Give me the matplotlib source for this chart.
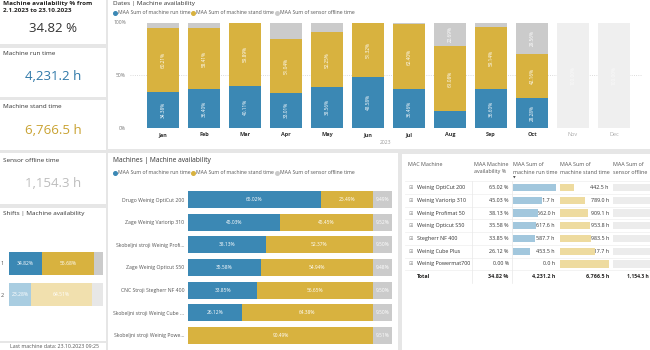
import numpy as np
import matplotlib
matplotlib.use("Agg")
import matplotlib.pyplot as plt
from matplotlib.patches import Rectangle

plt.rcParams['font.family'] = ['Open Sans', 'DejaVu Sans']

W, H = 650, 350

# colours
BLUE = '#3b88b4'
GOLD = '#d8b23f'
GREY = '#cbcbcb'
NODATA = '#efefef'

# ---- data -----------------------------------------------------------
months = ['Jan', 'Feb', 'Mar', 'Apr', 'May', 'Jun', 'Jul', 'Aug', 'Sep', 'Oct', 'Nov', 'Dec']
month_run = [34.38, 36.40, 40.11, 33.01, 38.56, 48.58, 36.46, 16.23, 36.60, 28.28, 0, 0]
month_stand = [60.21, 58.41, 59.89, 51.04, 52.25, 51.32, 62.40, 61.08, 59.14, 42.16, 0, 0]
month_offline = [5.41, 5.19, 0.00, 15.95, 9.19, 0.10, 1.14, 22.69, 4.26, 29.56, 0, 0]
month_nodata = [0, 0, 0, 0, 0, 0, 0, 0, 0, 0, 100, 100]

machine_names = ['Drugo Weinig OptiCut 200', 'Zage Weinig Variorip 310',
                 'Skobeljni stroji Weinig Profi...', 'Zage Weinig Opticut S50',
                 'CNC Stroji Stegherr NF 400', 'Skobeljni stroji Weinig Cube ...',
                 'Skobeljni stroji Weinig Powe...']
mach_run = [65.02, 45.03, 38.13, 35.58, 33.85, 26.12, 0.00]
mach_stand = [25.49, 45.45, 52.37, 54.94, 56.65, 64.38, 90.49]
mach_offline = [9.49, 9.52, 9.50, 9.48, 9.50, 9.50, 9.51]

shift_labels = ['1', '2']
shift_run = [34.82, 23.28]
shift_stand = [55.68, 64.51]
shift_offline = [9.50, 12.21]

table_machines = ['Weinig OptiCut 200', 'Weinig Variorip 310', 'Weinig Profimat 50',
                  'Weinig Opticut S50', 'Stegherr NF 400', 'Weinig Cube Plus',
                  'Weinig Powermat700']
table_avail = [65.02, 45.03, 38.13, 35.58, 33.85, 26.12, 0.00]
table_run_h = [1128.7, 781.7, 662.0, 617.6, 587.7, 453.5, 0.0]
table_stand_h = [442.5, 789.0, 909.1, 953.8, 983.5, 1117.7, 1570.9]
table_offline_h = [164.8, 165.3, 165.1, 164.5, 164.9, 165.1, 164.6]
total_avail, total_run, total_stand, total_offline = 34.82, 4231.2, 6766.5, 1154.3


def rect(x, y, w, h):
    return [x / W, 1 - (y + h) / H, w / W, h / H]


def clean(ax):
    for s in ax.spines.values():
        s.set_visible(False)
    ax.tick_params(length=0)


fig = plt.figure(figsize=(6.5, 3.5), dpi=100)
fig.patch.set_facecolor('#e6e6e6')

bg = fig.add_axes([0, 0, 1, 1])
bg.set_xlim(0, W)
bg.set_ylim(H, 0)
bg.axis('off')

# white panels
panels = [(0, -5, 106, 49), (0, 48, 106, 49), (0, 100, 106, 50), (0, 153, 106, 51),
          (0, 208, 106, 133), (0, 343, 106, 12),
          (108, -5, 542, 154), (108, 153, 290, 200), (402, 154, 250, 200)]
for x, y, w, h in panels:
    bg.add_patch(Rectangle((x, y), w, h, facecolor='white', edgecolor='none'))

# ---- KPI cards ------------------------------------------------------
bg.text(3, 3, 'Machine availability % from', fontsize=4.6, fontweight='bold', color='#252423', va='center')
bg.text(3, 10.5, '2.1.2023 to 23.10.2023', fontsize=4.6, fontweight='bold', color='#252423', va='center')
bg.text(53, 28, '34.82 %', fontsize=9.5, color='#333333', ha='center', va='center')
bg.text(3, 53.5, 'Machine run time', fontsize=4.6, color='#333333', va='center')
bg.text(53, 77, '4,231.2 h', fontsize=9.5, color='#2f78a8', ha='center', va='center')
bg.text(3, 107, 'Machine stand time', fontsize=4.6, color='#333333', va='center')
bg.text(53, 130, '6,766.5 h', fontsize=9.5, color='#c9a231', ha='center', va='center')
bg.text(3, 160.5, 'Sensor offline time', fontsize=4.6, color='#333333', va='center')
bg.text(53, 183.5, '1,154.3 h', fontsize=9.5, color='#bdbdbd', ha='center', va='center')
bg.text(3, 214, 'Shifts | Machine availability', fontsize=4.6, color='#333333', va='center')
bg.text(55, 346.5, 'Last machine data: 23.10.2023 09:25', fontsize=3.8, color='#555555',
        ha='center', va='center')

# ---- shifts chart ---------------------------------------------------
ax_s = fig.add_axes(rect(9, 247.6, 94, 62.8))
ax_s.set_facecolor('none')
ys = np.arange(len(shift_labels))
shift_cols = [(BLUE, GOLD, GREY), ('#a9cde1', '#f1e0ae', '#e7e7e7')]
for i in ys:
    c = shift_cols[i]
    ax_s.barh(i, shift_run[i], height=0.74, color=c[0])
    ax_s.barh(i, shift_stand[i], left=shift_run[i], height=0.74, color=c[1])
    ax_s.barh(i, shift_offline[i], left=shift_run[i] + shift_stand[i], height=0.74, color=c[2])
    ax_s.text(shift_run[i] / 2, i, f'{shift_run[i]:.2f}%', color='white', fontsize=3.6,
              ha='center', va='center')
    ax_s.text(shift_run[i] + shift_stand[i] / 2, i, f'{shift_stand[i]:.2f}%', color='white',
              fontsize=3.6, ha='center', va='center')
ax_s.set_xlim(0, 100)
ax_s.set_ylim(1.5, -0.5)
ax_s.set_xticks([])
ax_s.set_yticks(ys)
ax_s.set_yticklabels(shift_labels, fontsize=4, color='#555555')
ax_s.tick_params(axis='y', pad=4)
clean(ax_s)

# ---- legend helper --------------------------------------------------
legend_items = [('MAA Sum of machine run time', BLUE),
                ('MAA Sum of machine stand time', GOLD),
                ('MAA Sum of sensor offline time', GREY)]


def draw_legend(x0, y, xs):
    for (lab, col), dx in zip(legend_items, xs):
        bg.plot(x0 + dx, y, 'o', color=col, markersize=2.6)
        bg.text(x0 + dx + 3, y, lab, fontsize=3.7, color='#555555', va='center')


# ---- dates chart ----------------------------------------------------
bg.text(113, 3, 'Dates | Machine availability', fontsize=4.6, color='#333333', va='center')
draw_legend(115, 12.8, [0, 78, 162])

ax_d = fig.add_axes(rect(130, 22.5, 512, 105.2))
ax_d.set_facecolor('none')
x = np.arange(len(months))
run = np.array(month_run)
stand = np.array(month_stand)
off = np.array(month_offline)
bw = 0.78
ax_d.bar(x, run, width=bw, color=BLUE, zorder=2)
ax_d.bar(x, stand, bottom=run, width=bw, color=GOLD, zorder=2)
ax_d.bar(x, off, bottom=run + stand, width=bw, color=GREY, zorder=2)
ax_d.bar(x, month_nodata, width=bw, color=NODATA, zorder=2)
for i in x:
    for v, b in ((run[i], 0), (stand[i], run[i]), (off[i], run[i] + stand[i])):
        if v >= 20:
            ax_d.text(i, b + v / 2, f'{v:.2f}%', rotation=90, color='white', fontsize=3.4,
                      ha='center', va='center', zorder=3)
    if month_nodata[i] > 0:
        ax_d.text(i, month_nodata[i] / 2, f'{month_nodata[i]:.2f}%', rotation=90,
                  color='#fafafa', fontsize=3.4, ha='center', va='center', zorder=3)
for yv in (50, 100):
    ax_d.axhline(yv, color='#cfcfcf', lw=0.6, ls=':', zorder=1)
ax_d.set_xlim(-0.805, 11.683)
ax_d.set_ylim(0, 100)
ax_d.set_yticks([0, 50, 100])
ax_d.set_yticklabels(['0%', '50%', '100%'], fontsize=3.6, color='#777777')
ax_d.set_xticks(x)
ax_d.set_xticklabels(months, fontsize=4, fontweight='bold', color='#333333')
for lab in ax_d.get_xticklabels()[10:]:
    lab.set_color('#aaaaaa')
    lab.set_fontweight('normal')
ax_d.tick_params(axis='x', pad=3)
ax_d.tick_params(axis='y', pad=3)
ax_d.set_xlabel('2023', fontsize=3.6, color='#999999', labelpad=2)
clean(ax_d)

# ---- machines chart -------------------------------------------------
bg.text(113, 160.7, 'Machines | Machine availability', fontsize=4.8, color='#333333', va='center')
draw_legend(115, 172.7, [0, 78, 162])

ax_m = fig.add_axes(rect(188.3, 188.2, 203.7, 158.4))
ax_m.set_facecolor('none')
ym = np.arange(len(machine_names))
mr = np.array(mach_run)
ms = np.array(mach_stand)
mo = np.array(mach_offline)
bh = 0.75
ax_m.barh(ym, mr, height=bh, color=BLUE)
ax_m.barh(ym, ms, left=mr, height=bh, color=GOLD)
ax_m.barh(ym, mo, left=mr + ms, height=bh, color=GREY)
for i in ym:
    for v, l in ((mr[i], 0), (ms[i], mr[i]), (mo[i], mr[i] + ms[i])):
        if v > 5:
            ax_m.text(l + v / 2, i, f'{v:.2f}%', color='white', fontsize=3.5,
                      ha='center', va='center')
ax_m.set_xlim(0, 100)
ax_m.set_ylim(len(machine_names) - 0.5, -0.5)
ax_m.set_xticks([])
ax_m.set_yticks(ym)
ax_m.set_yticklabels(machine_names, fontsize=3.7, color='#555555')
ax_m.tick_params(axis='y', pad=3)
clean(ax_m)

# ---- table ----------------------------------------------------------
hdr_col = '#555555'
hy1, hy2 = 164.5, 172
bg.text(408, hy1, 'MAC Machine', fontsize=3.9, color=hdr_col, va='center')
bg.text(473.5, hy1, 'MAA Machine', fontsize=3.9, color=hdr_col, va='center')
bg.text(473.5, hy2, 'availability %', fontsize=3.9, color=hdr_col, va='center')
bg.text(513, hy1, 'MAA Sum of', fontsize=3.9, color=hdr_col, va='center')
bg.text(513, hy2, 'machine run time', fontsize=3.9, color=hdr_col, va='center')
bg.text(560, hy1, 'MAA Sum of', fontsize=3.9, color=hdr_col, va='center')
bg.text(560, hy2, 'machine stand time', fontsize=3.9, color=hdr_col, va='center')
bg.text(613, hy1, 'MAA Sum of', fontsize=3.9, color=hdr_col, va='center')
bg.text(613, hy2, 'sensor offline', fontsize=3.9, color=hdr_col, va='center')
bg.text(514.5, 177.5, '\u25bc', fontsize=2.5, color='#444444', va='center', ha='center',
        family='DejaVu Sans')

row0, rstep = 187.7, 12.7
n = len(table_machines)
top = row0 - rstep / 2
bot = row0 + (n - 0.5) * rstep


def bar_column(x0, w, vals, col):
    a = fig.add_axes(rect(x0, top, w, bot - top))
    a.set_facecolor('none')
    a.barh(np.arange(n), vals, height=0.58, color=col)
    a.set_xlim(0, max(vals))
    a.set_ylim(n - 0.5, -0.5)
    a.axis('off')
    return a


bar_column(512.7, 43, table_run_h, '#a2c7dd')
bar_column(560, 49, table_stand_h, '#eedb9f')
bar_column(613.3, 50, table_offline_h, '#ececec')

for k in range(n + 1):
    bg.plot([405, 650], [top + k * rstep] * 2, color='#eeeeee', lw=0.5)
for xv in (471.7, 511.7):
    bg.plot([xv, xv], [top, bot + rstep], color='#e8e8e8', lw=0.5)

for i, name in enumerate(table_machines):
    yy = row0 + i * rstep
    bg.text(411, yy, '\u229e', fontsize=3.8, color='#999999', ha='center', va='center',
            family='DejaVu Sans')
    bg.text(417, yy, name, fontsize=3.9, color='#333333', va='center')
    bg.text(508.7, yy, f'{table_avail[i]:.2f} %', fontsize=3.9, color='#333333',
            ha='right', va='center')
    bg.text(555, yy, f'{table_run_h[i]:,.1f} h', fontsize=3.9, color='#333333',
            ha='right', va='center')
    bg.text(609, yy, f'{table_stand_h[i]:,.1f} h', fontsize=3.9, color='#333333',
            ha='right', va='center')
    bg.text(649, yy, f'{table_offline_h[i]:,.1f} h', fontsize=3.6, color='#333333',
            ha='right', va='center')

ty = row0 + n * rstep
bg.text(417, ty, 'Total', fontsize=3.9, fontweight='bold', color='#252423', va='center')
bg.text(508.7, ty, f'{total_avail:.2f} %', fontsize=3.9, fontweight='bold', color='#252423',
        ha='right', va='center')
bg.text(555, ty, f'{total_run:,.1f} h', fontsize=3.9, fontweight='bold', color='#252423',
        ha='right', va='center')
bg.text(609, ty, f'{total_stand:,.1f} h', fontsize=3.9, fontweight='bold', color='#252423',
        ha='right', va='center')
bg.text(649, ty, f'{total_offline:,.1f} h', fontsize=3.6, fontweight='bold', color='#252423',
        ha='right', va='center')

fig.savefig('out.png', dpi=100, facecolor=fig.get_facecolor())
